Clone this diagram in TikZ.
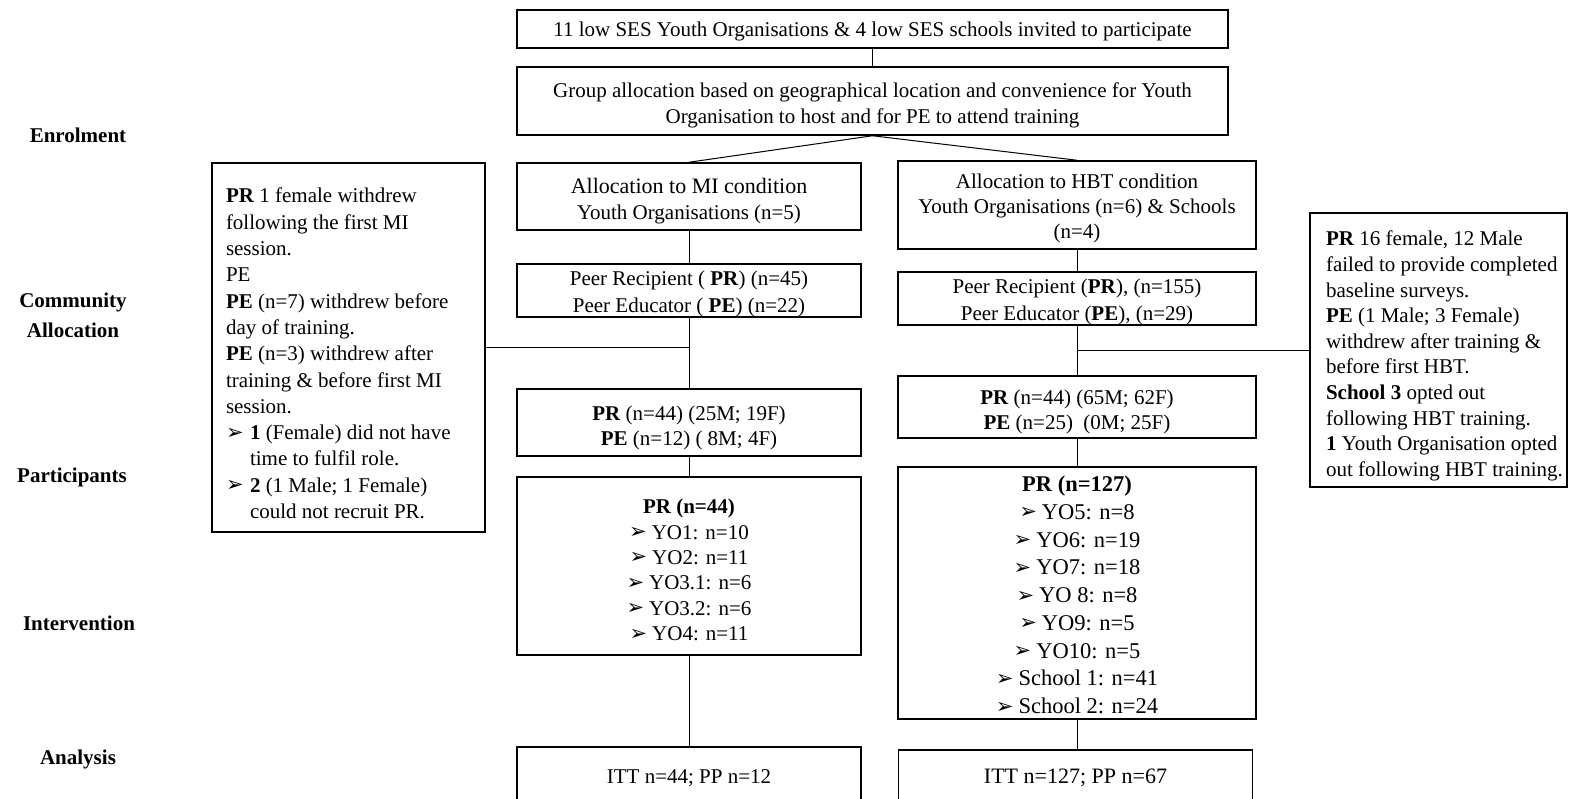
\documentclass[tikz,border=0pt]{standalone}
\usepackage{fontspec}
\setmainfont{Liberation Serif}
\newfontfamily\dejavu{DejaVu Sans}
\newcommand\arbul{\raisebox{0.5pt}{\dejavu\fontsize{21}{21}\selectfont ➢}}
\newcommand\mbul{\makebox[24pt][l]{\arbul}}
% shifted text blocks: #1 = downward shift, #2 = width, #3 = text
\newcommand\bt[3]{\raisebox{-#1}[\height][\depth]{\parbox{#2}{\centering #3}}}
\newcommand\bl[3]{\raisebox{-#1}[\height][\depth]{\parbox{#2}{\raggedright #3}}}
\begin{document}
\begin{tikzpicture}[x=1pt,y=-1pt,
  box/.style={draw, line width=1.5pt, inner sep=0pt, align=center, font=\fontsize{21}{26}\selectfont},
  conn/.style={line width=1pt},
  lab/.style={font=\fontsize{21}{30}\selectfont\bfseries, align=center}]
\useasboundingbox (0,0) rectangle (1569,798);
% side labels
\node[lab] (enrol) at (78,135) {Enrolment};
\node[lab] (comm) at (73,315) {Community\\Allocation};
\node[lab] (part) at (72,477) {Participants};
\node[lab] (interv) at (79,623) {Intervention};
\node[lab] (anal) at (78,759) {Analysis};
% top
\node[box, minimum width=711pt, minimum height=38pt] (top) at (872.5,29) {\bt{2pt}{700pt}{11 low SES Youth Organisations \& 4 low SES schools invited to participate}};
\node[box, minimum width=711pt, minimum height=68pt] (group) at (872.5,101) {\bt{4pt}{700pt}{Group allocation based on geographical location and convenience for Youth\\Organisation to host and for PE to attend training}};
% MI column
\node[box, minimum width=344pt, minimum height=67pt] (mialloc) at (689,196.5) {\bt{4.5pt}{336pt}{{\fontsize{22}{26}\selectfont Allocation to MI condition}\\Youth Organisations (n=5)}};
\node[box, minimum width=344pt, minimum height=53pt, font=\fontsize{21}{27}\selectfont] (mipr) at (689,290.5) {\bt{3pt}{336pt}{Peer Recipient ( \textbf{PR}) (n=45)\\Peer Educator ( \textbf{PE}) (n=22)}};
\node[box, minimum width=344pt, minimum height=67pt, font=\fontsize{21}{25}\selectfont] (mipart) at (689,422.5) {\bt{5pt}{336pt}{\textbf{PR} (n=44) (25M; 19F)\\\textbf{PE} (n=12) ( 8M; 4F)}};
\node[box, minimum width=344pt, minimum height=178pt, font=\fontsize{21}{25.4}\selectfont] (milist) at (689,566) {\bt{4pt}{336pt}{\textbf{PR (n=44)}\\\arbul\hspace{5pt}YO1: n=10\\\arbul\hspace{5pt}YO2: n=11\\\arbul\hspace{5pt}YO3.1: n=6\\\arbul\hspace{5pt}YO3.2: n=6\\\arbul\hspace{5pt}YO4: n=11}};
\node[box, minimum width=344pt, minimum height=56pt] (miitt) at (689,775) {\bt{3pt}{336pt}{ITT n=44; PP n=12}};
% HBT column
\node[box, minimum width=358pt, minimum height=88pt, font=\fontsize{21}{25}\selectfont] (hbtalloc) at (1077,205) {\bt{3pt}{350pt}{Allocation to HBT condition\\Youth Organisations (n=6) \& Schools\\(n=4)}};
\node[box, minimum width=358pt, minimum height=53pt, font=\fontsize{21}{27}\selectfont] (hbtpr) at (1077,298.5) {\bt{3pt}{350pt}{Peer Recipient (\textbf{PR}), (n=155)\\Peer Educator (\textbf{PE}), (n=29)}};
\node[box, minimum width=358pt, minimum height=62pt, font=\fontsize{21}{25}\selectfont] (hbtpart) at (1077,407) {\bt{5pt}{350pt}{\textbf{PR} (n=44) (65M; 62F)\\\textbf{PE} (n=25)\ \ (0M; 25F)}};
\node[box, minimum width=358pt, minimum height=252pt, font=\fontsize{22.5}{27.75}\selectfont] (hbtlist) at (1077,593) {\bt{2pt}{350pt}{\textbf{PR (n=127)}\\\arbul\hspace{5pt}YO5: n=8\\\arbul\hspace{5pt}YO6: n=19\\\arbul\hspace{5pt}YO7: n=18\\\arbul\hspace{5pt}YO 8: n=8\\\arbul\hspace{5pt}YO9: n=5\\\arbul\hspace{5pt}YO10: n=5\\\arbul\hspace{5pt}School 1: n=41\\\arbul\hspace{5pt}School 2: n=24}};
\node[box, minimum width=354pt, minimum height=50pt, font=\fontsize{22}{26}\selectfont] (hbtitt) at (1075.5,775) {\bt{3pt}{346pt}{ITT n=127; PP n=67}};
% side boxes
\node[box, inner xsep=14pt, minimum height=369pt, font=\fontsize{21}{26.3}\selectfont] (leftbox) at (348.5,347.5) {\bl{6pt}{245pt}{\textbf{PR} 1 female withdrew\\following the first MI\\session.\\PE\\\textbf{PE} (n=7) withdrew before\\day of training.\\\textbf{PE} (n=3) withdrew after\\training \& before first MI\\session.\\\mbul\textbf{1} (Female) did not have\\\hspace*{24pt}time to fulfil role.\\\mbul\textbf{2} (1 Male; 1 Female)\\\hspace*{24pt}could not recruit PR.}};
\node[box, inner xsep=0pt, minimum width=257pt, minimum height=274pt, font=\fontsize{21}{25.6}\selectfont] (rightbox) at (1438.5,350) {\hspace*{16pt}\bl{6pt}{241pt}{\textbf{PR} 16 female, 12 Male\\failed to provide completed\\baseline surveys.\\\textbf{PE} (1 Male; 3 Female)\\withdrew after training \&\\before first HBT.\\\textbf{School 3} opted out\\following HBT training.\\\textbf{1} Youth Organisation opted\\out following HBT training.}};
% connectors
\draw[conn] (top.south) -- (group.north);
\draw[conn] (group.south) -- (mialloc.north);
\draw[conn] (group.south) -- (hbtalloc.north);
\draw[conn] (mialloc.south) -- (mipr.north);
\draw[conn] (mipr.south) -- (mipart.north);
\coordinate (mij) at (689,347.5);
\draw[conn] (leftbox.east) -- (mij);
\draw[conn] (mipart.south) -- (milist.north);
\draw[conn] (milist.south) -- (miitt.north);
\draw[conn] (hbtalloc.south) -- (hbtpr.north);
\draw[conn] (hbtpr.south) -- (hbtpart.north);
\coordinate (hbtj) at (1077,350);
\draw[conn] (hbtj) -- (rightbox.west);
\draw[conn] (hbtpart.south) -- (hbtlist.north);
\draw[conn] (hbtlist.south) -- (hbtlist.south |- hbtitt.north);
\end{tikzpicture}
\end{document}
